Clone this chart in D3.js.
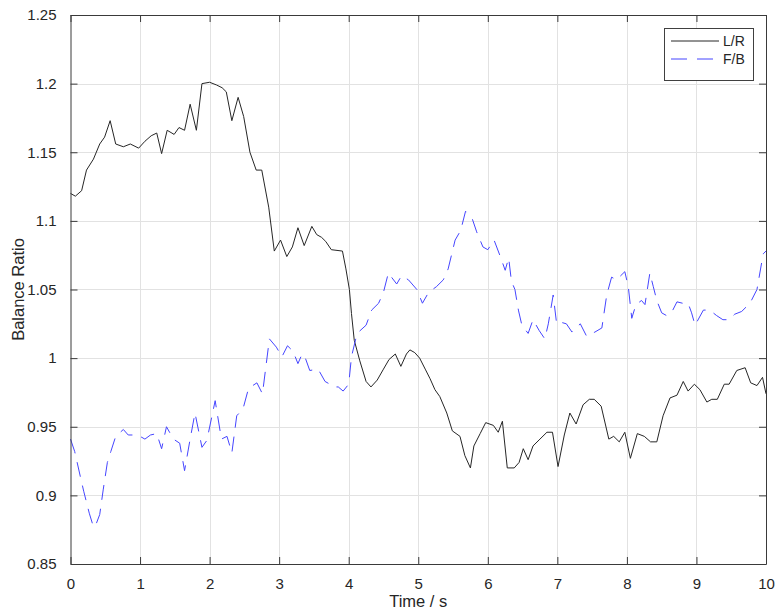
<!DOCTYPE html>
<html>
<head>
<meta charset="utf-8">
<script src="https://cdn.jsdelivr.net/npm/d3@7"></script>
<style>
  html, body { margin: 0; padding: 0; background: #fff; }
  svg { display: block; font-family: "Liberation Sans", Arial, Helvetica, sans-serif; }
</style>
</head>
<body>
<svg id="chart" width="776" height="614"></svg>
<script>
// ---- data ----
const lrTime = [0.00,0.07,0.16,0.23,0.33,0.42,0.49,0.57,0.65,0.76,0.86,0.98,1.07,1.16,1.24,1.31,1.39,1.49,1.56,1.64,1.72,1.81,1.89,2.00,2.10,2.18,2.24,2.32,2.41,2.49,2.58,2.67,2.75,2.85,2.93,3.02,3.11,3.19,3.27,3.36,3.47,3.54,3.61,3.67,3.75,3.91,3.96,4.01,4.04,4.08,4.16,4.25,4.32,4.41,4.50,4.58,4.67,4.75,4.83,4.88,4.95,5.02,5.10,5.17,5.24,5.31,5.41,5.49,5.60,5.67,5.75,5.80,5.89,5.97,6.08,6.15,6.21,6.28,6.38,6.45,6.51,6.58,6.65,6.75,6.85,6.93,7.01,7.10,7.18,7.27,7.37,7.46,7.53,7.63,7.74,7.81,7.89,7.97,8.05,8.15,8.25,8.34,8.43,8.52,8.62,8.72,8.81,8.88,8.97,9.05,9.15,9.22,9.30,9.40,9.47,9.58,9.70,9.78,9.87,9.95,10.00];
const lrValue = [1.120,1.118,1.122,1.137,1.145,1.156,1.161,1.173,1.156,1.154,1.156,1.153,1.158,1.162,1.164,1.149,1.166,1.163,1.168,1.166,1.185,1.166,1.200,1.201,1.199,1.197,1.194,1.173,1.190,1.176,1.150,1.137,1.137,1.110,1.078,1.086,1.074,1.081,1.095,1.082,1.096,1.090,1.088,1.085,1.079,1.078,1.065,1.050,1.0325,1.013,0.998,0.983,0.979,0.984,0.992,0.999,1.003,0.994,1.003,1.006,1.004,1.000,0.992,0.985,0.977,0.972,0.960,0.947,0.943,0.929,0.920,0.936,0.945,0.953,0.951,0.946,0.954,0.920,0.920,0.924,0.934,0.926,0.936,0.941,0.946,0.946,0.921,0.944,0.960,0.952,0.966,0.970,0.970,0.965,0.941,0.943,0.939,0.946,0.927,0.945,0.943,0.939,0.939,0.958,0.971,0.973,0.983,0.976,0.981,0.977,0.968,0.970,0.970,0.981,0.981,0.991,0.993,0.982,0.980,0.986,0.974];

const fbTime = [0.00,0.06,0.14,0.19,0.27,0.33,0.36,0.42,0.47,0.53,0.58,0.65,0.76,0.83,0.93,1.00,1.07,1.15,1.24,1.31,1.38,1.48,1.57,1.64,1.72,1.79,1.89,1.96,2.08,2.17,2.25,2.32,2.39,2.48,2.56,2.68,2.76,2.86,2.96,3.04,3.12,3.20,3.27,3.33,3.37,3.44,3.56,3.66,3.80,3.85,3.92,4.00,4.04,4.12,4.25,4.33,4.43,4.50,4.57,4.69,4.76,4.86,4.98,5.06,5.15,5.26,5.36,5.43,5.53,5.61,5.68,5.78,5.84,5.93,6.00,6.09,6.18,6.25,6.30,6.34,6.39,6.44,6.49,6.58,6.65,6.74,6.82,6.87,6.94,6.99,7.06,7.13,7.21,7.33,7.42,7.54,7.64,7.71,7.78,7.85,7.97,8.02,8.07,8.13,8.21,8.26,8.33,8.38,8.43,8.50,8.57,8.64,8.72,8.80,8.88,8.93,8.98,9.10,9.19,9.29,9.38,9.47,9.55,9.65,9.77,9.87,9.96,10.00];
const fbValue = [0.941,0.932,0.914,0.903,0.887,0.877,0.878,0.886,0.904,0.924,0.932,0.943,0.948,0.944,0.944,0.943,0.941,0.944,0.945,0.934,0.950,0.941,0.938,0.918,0.941,0.960,0.935,0.940,0.969,0.941,0.943,0.931,0.958,0.963,0.978,0.982,0.974,1.014,1.008,1.001,1.009,1.005,0.996,1.003,1.001,0.991,0.992,0.983,0.979,0.979,0.976,0.981,1.001,1.018,1.024,1.035,1.040,1.048,1.062,1.054,1.060,1.057,1.050,1.040,1.048,1.052,1.057,1.065,1.086,1.093,1.107,1.101,1.092,1.081,1.079,1.086,1.074,1.064,1.073,1.056,1.050,1.035,1.024,1.018,1.028,1.020,1.014,1.025,1.046,1.025,1.026,1.025,1.019,1.025,1.016,1.019,1.022,1.046,1.059,1.057,1.063,1.052,1.029,1.039,1.042,1.039,1.062,1.052,1.042,1.033,1.031,1.033,1.041,1.040,1.040,1.033,1.024,1.035,1.035,1.031,1.028,1.028,1.032,1.034,1.040,1.050,1.076,1.078];

const xTicks = [0,1,2,3,4,5,6,7,8,9,10];
const yTicks = [0.85,0.9,0.95,1,1.05,1.1,1.15,1.2,1.25];
const seriesNames = ["L/R", "F/B"];
const xLabel = "Time / s";
const yLabel = "Balance Ratio";

// ---- layout ----
const svg = d3.select("#chart");
const L = 70.5, R = 766, T = 15, B = 564;
const x = d3.scaleLinear().domain([0, 10]).range([L, R]);
const y = d3.scaleLinear().domain([0.85, 1.25]).range([B, T]);
const axisColor = "#3a3a3a";
const tickLen = 7;
const fmt = v => String(+v.toFixed(2));

// grid
const grid = svg.append("g");
grid.selectAll("line.gx").data(xTicks.slice(1, -1)).join("line")
  .attr("x1", d => Math.round(x(d)) + 0.5).attr("x2", d => Math.round(x(d)) + 0.5)
  .attr("y1", T).attr("y2", B)
  .attr("stroke", "#e2e2e2").attr("stroke-width", 1);
grid.selectAll("line.gy").data(yTicks.slice(1, -1)).join("line")
  .attr("y1", d => Math.round(y(d)) + 0.5).attr("y2", d => Math.round(y(d)) + 0.5)
  .attr("x1", L).attr("x2", R)
  .attr("stroke", "#e2e2e2").attr("stroke-width", 1);

// lines
const lineGen = (ts, vs) => d3.line().x((d, i) => x(ts[i])).y((d, i) => y(vs[i]))(vs);
svg.append("path").attr("d", lineGen(lrTime, lrValue))
  .attr("fill", "none").attr("stroke", "#262626").attr("stroke-width", 1)
  .attr("stroke-linejoin", "round");
svg.append("path").attr("d", lineGen(fbTime, fbValue))
  .attr("fill", "none").attr("stroke", "#4545ff").attr("stroke-width", 1)
  .attr("stroke-dasharray", "15,9");

// axes (box with inward ticks)
const axB = svg.append("g").attr("transform", `translate(0,${B})`)
  .call(d3.axisBottom(x).tickValues(xTicks).tickFormat(d3.format("d")).tickSizeInner(-tickLen).tickSizeOuter(0).tickPadding(14));
const axT = svg.append("g").attr("transform", `translate(0,${T})`)
  .call(d3.axisTop(x).tickValues(xTicks).tickFormat("").tickSizeInner(-tickLen).tickSizeOuter(0));
const axL = svg.append("g").attr("transform", `translate(${L},0)`)
  .call(d3.axisLeft(y).tickValues(yTicks).tickFormat(fmt).tickSizeInner(-tickLen).tickSizeOuter(0).tickPadding(14));
const axR = svg.append("g").attr("transform", `translate(${R},0)`)
  .call(d3.axisRight(y).tickValues(yTicks).tickFormat("").tickSizeInner(-tickLen).tickSizeOuter(0));
[axB, axT, axL, axR].forEach(g => {
  g.select(".domain").attr("stroke", axisColor).attr("stroke-width", 1);
  g.selectAll(".tick line").attr("stroke", axisColor);
  g.selectAll(".tick text").attr("fill", "#262626").style("font-size", "15px")
    .style("font-family", '"Liberation Sans", Arial, sans-serif');
});

// axis labels
svg.append("text").attr("x", (L + R) / 2).attr("y", 607).attr("text-anchor", "middle")
  .style("font-size", "16.5px").attr("fill", "#262626").text(xLabel);
svg.append("text").attr("transform", `translate(24,${(T + B) / 2}) rotate(-90)`)
  .attr("text-anchor", "middle").style("font-size", "16.5px").attr("fill", "#262626").text(yLabel);

// legend
const lg = svg.append("g");
lg.append("rect").attr("x", 664.5).attr("y", 28.5).attr("width", 89).attr("height", 52)
  .attr("fill", "#fff").attr("stroke", "#404040").attr("stroke-width", 1);
const legendStyles = [
  { stroke: "#262626", dash: null, x2: 719 },
  { stroke: "#4545ff", dash: "16,10", x2: 713 }
];
seriesNames.forEach((name, i) => {
  const yy = 41 + i * 18;
  lg.append("line").attr("x1", 671).attr("x2", legendStyles[i].x2).attr("y1", yy).attr("y2", yy)
    .attr("stroke", legendStyles[i].stroke).attr("stroke-width", 1)
    .attr("stroke-dasharray", legendStyles[i].dash);
  lg.append("text").attr("x", 723).attr("y", yy + 5).style("font-size", "14px")
    .attr("fill", "#262626").text(name);
});
</script>
</body>
</html>
